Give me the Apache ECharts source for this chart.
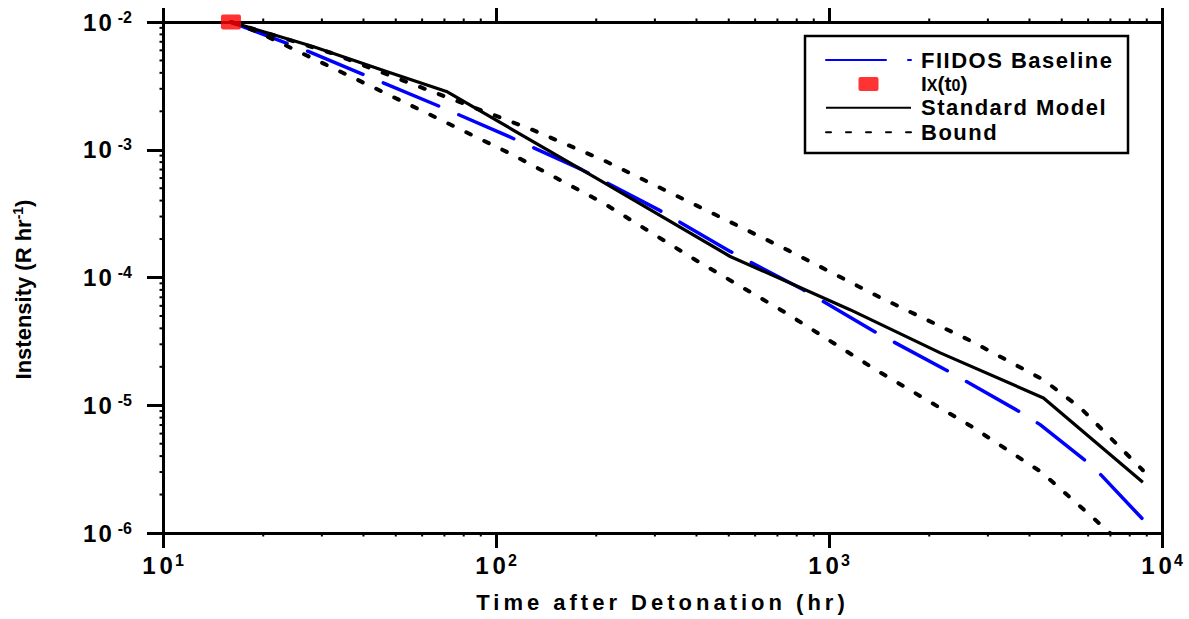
<!DOCTYPE html>
<html>
<head>
<meta charset="utf-8">
<script src="https://cdn.jsdelivr.net/npm/echarts@6/dist/echarts.min.js"></script>
<style>
  html, body { margin: 0; padding: 0; background: #fff; }
  #chart { width: 1189px; height: 619px; }
</style>
</head>
<body>
<div id="chart"></div>
<script>
// Dose-rate decay after detonation (hours vs R/hr)
const fiidosTime = [16, 27.3, 67, 110, 181, 307, 505, 837, 1393, 2312, 3793, 4305, 6223, 8760];
const fiidosRate = [1.0e-2, 5.88e-3, 2.21e-3, 1.26e-3, 6.98e-4, 3.40e-4, 1.60e-4, 8.02e-5, 3.68e-5, 1.81e-5, 8.69e-6, 7.05e-6, 3.29e-6, 1.28e-6];

const modelTime = [16, 28.2, 46.9, 71, 200, 505, 1156, 2158, 4406, 8760];
const modelRate = [1.0e-2, 6.44e-3, 4.10e-3, 2.86e-3, 6.0e-4, 1.46e-4, 5.6e-5, 2.57e-5, 1.14e-5, 2.5e-6];

const upperTime = [16, 32.1, 52.6, 76.9, 128, 212, 401, 755, 1416, 2685, 4406, 5675, 8760];
const upperRate = [1.0e-2, 5.71e-3, 3.48e-3, 2.39e-3, 1.44e-3, 8.2e-4, 3.65e-4, 1.63e-4, 7.03e-5, 3.16e-5, 1.58e-5, 9.6e-6, 3.1e-6];

const lowerTime = [16, 19.1, 31.3, 59, 111, 210, 392, 738, 1393, 2655, 4356, 6839, 8760];
const lowerRate = [1.0e-2, 8.44e-3, 4.55e-3, 2.06e-3, 9.27e-4, 3.83e-4, 1.40e-4, 5.33e-5, 1.87e-5, 6.92e-6, 2.98e-6, 1.05e-6, 5.8e-7];

// reference intensity at t0
const t0Time = [16];
const t0Rate = [1.0e-2];

// minor tick positions (2..9 of each decade)
const minorTimeTicks = [20, 30, 40, 50, 60, 70, 80, 90, 200, 300, 400, 500, 600, 700, 800, 900,
                        2000, 3000, 4000, 5000, 6000, 7000, 8000, 9000];
const minorRateTicks = [2e-6, 3e-6, 4e-6, 5e-6, 6e-6, 7e-6, 8e-6, 9e-6,
                        2e-5, 3e-5, 4e-5, 5e-5, 6e-5, 7e-5, 8e-5, 9e-5,
                        2e-4, 3e-4, 4e-4, 5e-4, 6e-4, 7e-4, 8e-4, 9e-4,
                        2e-3, 3e-3, 4e-3, 5e-3, 6e-3, 7e-3, 8e-3, 9e-3];

const FONT = '"Liberation Sans", Arial, Helvetica, sans-serif';
const X_TITLE = 'Time after Detonation (hr)';
const LEGEND_NAMES = ['FIIDOS Baseline', 'Ix(t0)', 'Standard Model', 'Bound'];

function pairs(xs, ys) { return xs.map((x, i) => [x, ys[i]]); }
function expOf(v) { return Math.round(Math.log10(v)); }

const chart = echarts.init(document.getElementById('chart'), null, { renderer: 'svg' });

const axisLine = { onZero: false, lineStyle: { color: '#000', width: 3 } };
const hiddenSymbol = { color: 'rgba(0,0,0,0)', borderColor: 'rgba(0,0,0,0)', borderWidth: 0 };

const minorData = []
  .concat(minorTimeTicks.map(v => [v, 1e-6, 0]))
  .concat(minorTimeTicks.map(v => [v, 1e-2, 1]))
  .concat(minorRateTicks.map(v => [10, v, 2]));

const option = {
  backgroundColor: '#fff',
  animation: false,
  grid: { left: 163, right: 27, top: 22, bottom: 86, containLabel: false },
  graphic: [{
    type: 'rect', z: 3,
    shape: { x: 805, y: 36, width: 323, height: 117 },
    style: { fill: '#fff', stroke: '#000', lineWidth: 2.5 }
  }],
  legend: {
    orient: 'vertical', left: 820, top: 44, z: 5,
    itemWidth: 85, itemHeight: 14, itemGap: 2.4,
    selectedMode: false,
    data: [
      { name: LEGEND_NAMES[0], itemStyle: hiddenSymbol },
      { name: LEGEND_NAMES[1], icon: 'path://M2,0H18Q20,0 20,2V12Q20,14 18,14H2Q0,14 0,12V2Q0,0 2,0Z' },
      { name: LEGEND_NAMES[2], itemStyle: hiddenSymbol },
      { name: LEGEND_NAMES[3], itemStyle: hiddenSymbol }
    ],
    formatter: name => name === 'Ix(t0)' ? '{m|I}{sub|X}{m|(t}{sub|0}{m|)}' : name,
    textStyle: {
      fontFamily: FONT, fontWeight: 'bold', fontSize: 22, color: '#000',
      lineHeight: 20, padding: [0, 0, 0, 5],
      rich: {
        m: { fontFamily: FONT, fontWeight: 'bold', fontSize: 21, lineHeight: 20, color: '#000' },
        sub: { fontFamily: FONT, fontWeight: 'bold', fontSize: 16, lineHeight: 12, verticalAlign: 'bottom', color: '#000' }
      }
    }
  },
  xAxis: [{
    type: 'log', logBase: 10, min: 10, max: 10000, position: 'bottom',
    axisLine,
    axisTick: { length: 15, lineStyle: { color: '#000', width: 3 } },
    splitLine: { show: false },
    axisLabel: {
      margin: 19, color: '#000',
      formatter: v => '{d|1}{e|0}{s|' + expOf(v) + '}',
      rich: {
        d: { fontFamily: FONT, fontWeight: 'bold', fontSize: 24, lineHeight: 26, color: '#000' },
        e: { fontFamily: FONT, fontWeight: 'bold', fontSize: 24, lineHeight: 26, padding: [0, 0, 0, 4], color: '#000' },
        s: { fontFamily: FONT, fontWeight: 'bold', fontSize: 16, lineHeight: 10, verticalAlign: 'top', padding: [0, 0, 0, 2], color: '#000' }
      }
    },
    name: X_TITLE, nameLocation: 'middle', nameGap: 57,
    nameTextStyle: { fontFamily: FONT, fontWeight: 'bold', fontSize: 22, color: '#000', lineHeight: 24 }
  }, {
    type: 'log', logBase: 10, min: 10, max: 10000, position: 'top',
    axisLine,
    axisTick: { length: 14, lineStyle: { color: '#000', width: 3 } },
    axisLabel: { show: false },
    splitLine: { show: false }
  }],
  yAxis: [{
    type: 'log', logBase: 10, min: 1e-6, max: 1e-2, position: 'left',
    axisLine,
    axisTick: { length: 16, lineStyle: { color: '#000', width: 3 } },
    splitLine: { show: false },
    axisLabel: {
      margin: 31, color: '#000',
      formatter: v => '{d|1}{e|0}{s|' + expOf(v) + '}',
      rich: {
        d: { fontFamily: FONT, fontWeight: 'bold', fontSize: 24, lineHeight: 26, color: '#000' },
        e: { fontFamily: FONT, fontWeight: 'bold', fontSize: 24, lineHeight: 26, padding: [0, 0, 0, 2], color: '#000' },
        s: { fontFamily: FONT, fontWeight: 'bold', fontSize: 16, lineHeight: 10, verticalAlign: 'top', padding: [0, 0, 0, 6], color: '#000' }
      }
    },
    name: '{t|Instensity (R hr}{s|-1}{t|)}', nameLocation: 'middle', nameGap: 128,
    nameTextStyle: {
      padding: [0, 24, 0, 0],
      rich: {
        t: { fontFamily: FONT, fontWeight: 'bold', fontSize: 22, lineHeight: 24, color: '#000' },
        s: { fontFamily: FONT, fontWeight: 'bold', fontSize: 14, lineHeight: 10, verticalAlign: 'top', color: '#000' }
      }
    }
  }, {
    type: 'log', logBase: 10, min: 1e-6, max: 1e-2, position: 'right',
    axisLine,
    axisTick: { show: false },
    axisLabel: { show: false },
    splitLine: { show: false }
  }],
  series: [{
    name: LEGEND_NAMES[0], type: 'line', xAxisIndex: 0, yAxisIndex: 0,
    data: pairs(fiidosTime, fiidosRate), symbol: 'none', z: 2,
    lineStyle: { color: '#0000ff', width: 3.5, type: [60, 22], cap: 'round', join: 'round' }
  }, {
    name: LEGEND_NAMES[2], type: 'line', xAxisIndex: 0, yAxisIndex: 0,
    data: pairs(modelTime, modelRate), symbol: 'none', z: 3,
    lineStyle: { color: '#000', width: 3.2, type: 'solid', join: 'round' }
  }, {
    name: LEGEND_NAMES[3], type: 'line', xAxisIndex: 0, yAxisIndex: 0,
    data: pairs(upperTime, upperRate), symbol: 'none', z: 4,
    lineStyle: { color: '#000', width: 4, type: [5, 15], cap: 'round' }
  }, {
    name: LEGEND_NAMES[3], type: 'line', xAxisIndex: 0, yAxisIndex: 0,
    data: pairs(lowerTime, lowerRate), symbol: 'none', z: 4,
    lineStyle: { color: '#000', width: 4, type: [5, 15], cap: 'round' }
  }, {
    name: LEGEND_NAMES[1], type: 'scatter', xAxisIndex: 0, yAxisIndex: 0,
    data: pairs(t0Time, t0Rate), clip: false, z: 6,
    symbol: 'path://M2,0H18Q20,0 20,2V12Q20,14 18,14H2Q0,14 0,12V2Q0,0 2,0Z',
    symbolSize: [20, 15],
    itemStyle: { color: '#ff0000' }
  }, {
    name: 'minor ticks', type: 'custom', xAxisIndex: 0, yAxisIndex: 0,
    data: minorData, clip: false, silent: true, z: 7,
    encode: { x: 0, y: 1 },
    renderItem: (params, api) => {
      const p = api.coord([api.value(0), api.value(1)]);
      const d = api.value(2);
      const L = 3.5;
      let shape;
      if (d === 0) shape = { x1: p[0], y1: p[1], x2: p[0], y2: p[1] + L };
      else if (d === 1) shape = { x1: p[0], y1: p[1], x2: p[0], y2: p[1] - L };
      else shape = { x1: p[0], y1: p[1], x2: p[0] - L, y2: p[1] };
      return { type: 'line', shape, style: { stroke: '#000', lineWidth: 2 } };
    }
  }]
};

chart.setOption(option);

// widen the tracking of the axis title and legend entries
function applyTracking() {
  document.querySelectorAll('#chart svg text').forEach(t => {
    const s = t.textContent;
    if (s === X_TITLE) t.style.letterSpacing = '4px';
    else if (LEGEND_NAMES.indexOf(s) >= 0) t.style.letterSpacing = '1.5px';
  });
}
chart.on('finished', applyTracking);
applyTracking();
setTimeout(applyTracking, 50);
</script>
</body>
</html>
